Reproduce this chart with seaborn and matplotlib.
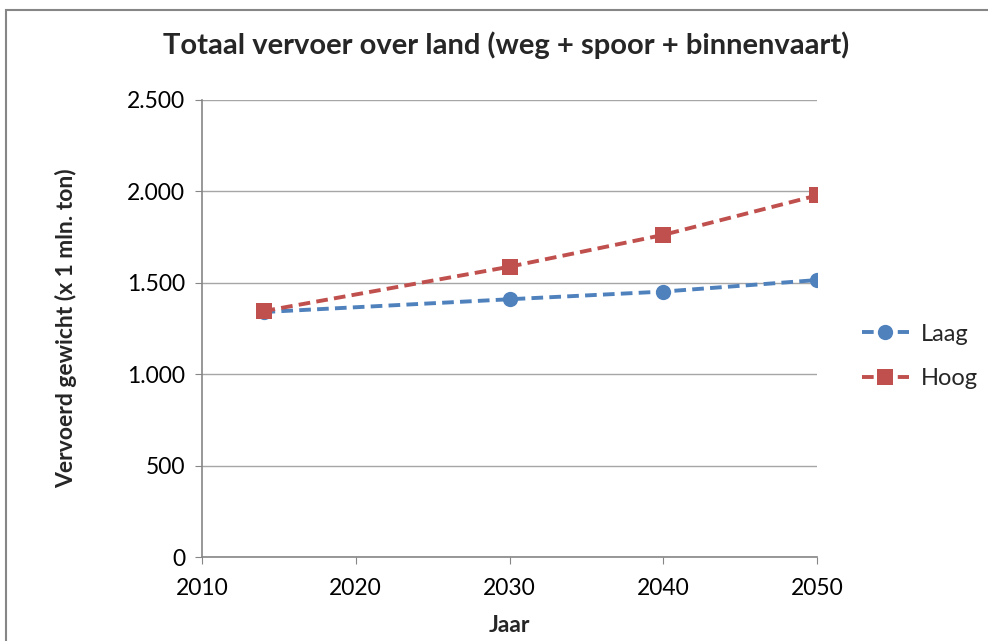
import seaborn as sns
import matplotlib.pyplot as plt
import matplotlib.patches as mpatches
from matplotlib.ticker import FuncFormatter
import pandas as pd

# scenario data
jaren = [2014, 2030, 2040, 2050]
laag = [1340, 1410, 1452, 1515]
hoog = [1345, 1588, 1762, 1978]
scenarios = ['Laag', 'Hoog']

df = pd.DataFrame({
    'Jaar': jaren * 2,
    'Gewicht': laag + hoog,
    'Scenario': [scenarios[0]] * len(jaren) + [scenarios[1]] * len(jaren),
})

sns.set_style('white')
plt.rcParams['font.family'] = ['Lato', 'DejaVu Sans']

fig = plt.figure(figsize=(9.88, 6.41), dpi=100)
ax = fig.add_axes([202 / 988, 1 - 557 / 641, (817 - 202) / 988, (557 - 100) / 641])

palette = {'Laag': '#4F81BD', 'Hoog': '#C0504D'}
markers = {'Laag': 'o', 'Hoog': 's'}
for name in scenarios:
    sub = df[df['Scenario'] == name]
    sns.lineplot(data=sub, x='Jaar', y='Gewicht', ax=ax, color=palette[name],
                 marker=markers[name], markersize=11, markeredgewidth=0,
                 linewidth=2.8, linestyle=(0, (3, 1.6)), label=name)

ax.set_xlim(2010, 2050)
ax.set_ylim(0, 2500)
ax.set_xticks(range(2010, 2051, 10))
ax.set_yticks(range(0, 2501, 500))
ax.yaxis.set_major_formatter(FuncFormatter(lambda v, p: f'{int(v):,}'.replace(',', '.')))
ax.grid(axis='y', color='#a6a6a6', linewidth=1)
ax.set_axisbelow(True)
for s in ['top', 'right']:
    ax.spines[s].set_visible(False)
for s in ['left', 'bottom']:
    ax.spines[s].set_color('#868686')
    ax.spines[s].set_linewidth(1.2)
ax.tick_params(axis='both', labelsize=16.5, colors='#868686', labelcolor='black',
               length=5, direction='out', left=True, bottom=True)
ax.tick_params(axis='x', pad=10)
ax.tick_params(axis='y', pad=7)

ax.set_xlabel('Jaar', fontsize=16.5, fontweight='bold', labelpad=12)
ax.set_ylabel('Vervoerd gewicht (x 1 mln. ton)', fontsize=16.5, fontweight='bold', labelpad=36)
fig.text(506 / 988, 1 - 45 / 641, 'Totaal vervoer over land (weg + spoor + binnenvaart)',
         fontsize=21, fontweight='bold', ha='center', va='center')

ax.legend().remove()
h, l = ax.get_legend_handles_labels()
fig.legend(h, l, loc='center left', bbox_to_anchor=(0.872, 0.444), frameon=False,
           fontsize=17, labelspacing=1.0, handlelength=2.0, handletextpad=0.5,
           borderaxespad=0, borderpad=0)

# outer chart border
fig.patches.append(mpatches.Rectangle((6 / 988, -0.05), 1.0, 1 - 10 / 641 + 0.05,
                                      transform=fig.transFigure, fill=False,
                                      edgecolor='#868686', linewidth=1.5))

fig.savefig('out.png', dpi=100)
plt.close(fig)
